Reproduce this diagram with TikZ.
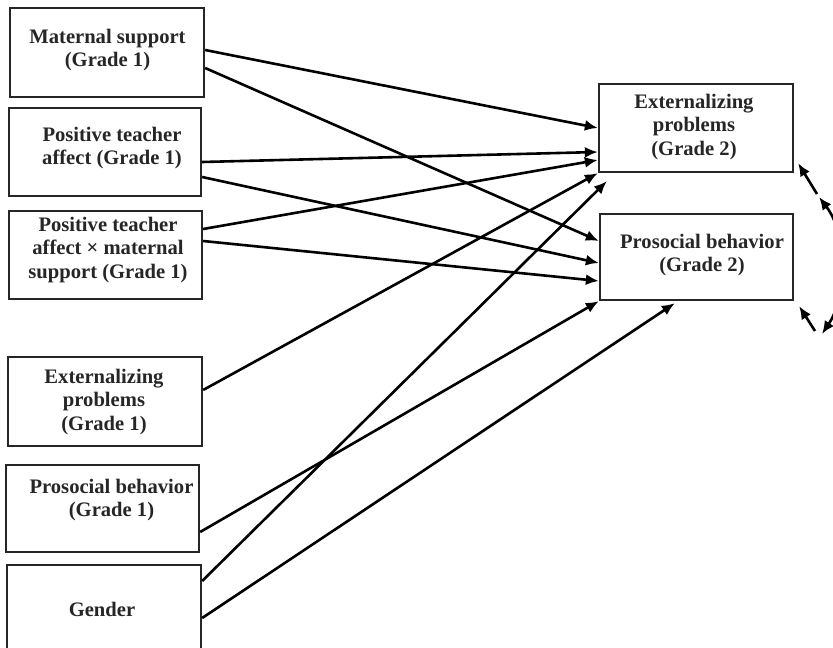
\documentclass[tikz,border=0pt]{standalone}
\usepackage{fontspec}
\setmainfont{Liberation Serif}
\usetikzlibrary{arrows.meta}
\begin{document}
\begin{tikzpicture}[x=1pt,y=-1pt,
  box/.style={draw=black!85, line width=2.3pt, inner sep=0pt},
  lbl/.style={align=center, font=\fontsize{20.6}{23.5}\selectfont\bfseries, text=black!85, inner sep=0pt},
  arr/.style={line width=2.6pt, -{Latex[length=13pt,width=11pt]}},
  darr/.style={line width=2.6pt, {Latex[length=13pt,width=11pt]}-{Latex[length=13pt,width=11pt]}}]
\path[use as bounding box] (0,0) rectangle (833,648);
\clip (0,0) rectangle (833,648);
\fill[white] (0,0) rectangle (833,648);
% boxes
\node[box, minimum width=194pt, minimum height=89pt] (b1) at (107,52.5) {};
\node[box, minimum width=192pt, minimum height=88pt] (b2) at (105,152) {};
\node[box, minimum width=193pt, minimum height=88pt] (b3) at (105.5,255) {};
\node[box, minimum width=194pt, minimum height=89pt] (b4) at (105,401.5) {};
\node[box, minimum width=193pt, minimum height=87pt] (b5) at (102.5,508.5) {};
\node[box, minimum width=194pt, minimum height=95pt] (b6) at (104,612.5) {};
\node[box, minimum width=194pt, minimum height=88pt] (ext) at (696,128) {};
\node[box, minimum width=193pt, minimum height=86pt] (pros) at (696.5,257) {};
% texts
\node[lbl] (t1) at (107.5,50) {Maternal support\\(Grade 1)};
\node[lbl] (t2) at (112,148) {Positive teacher\\affect (Grade 1)};
\node[lbl] (t3) at (108,250) {Positive teacher\\affect × maternal\\support (Grade 1)};
\node[lbl] (t4) at (104,402) {Externalizing\\problems\\(Grade 1)};
\node[lbl] (t5) at (111.5,500) {Prosocial behavior\\(Grade 1)};
\node[lbl] (t6) at (102,609) {Gender};
\node[lbl] (t7) at (694,127) {Externalizing\\problems\\(Grade 2)};
\node[lbl] (t8) at (702,255) {Prosocial behavior\\(Grade 2)};
% paths
\draw[arr] (b1.east |- 0,50) -- (ext.west |- 0,128);
\draw[arr] (b1.east |- 0,68) -- (pros.west |- 0,241);
\draw[arr] (b2.east |- 0,162) -- (ext.west |- 0,152);
\draw[arr] (b2.east |- 0,177) -- (pros.west |- 0,263);
\draw[arr] (b3.east |- 0,229) -- (ext.west |- 0,160);
\draw[arr] (b3.east |- 0,241) -- (pros.west |- 0,281);
\draw[arr] (b4.east |- 0,390) -- (ext.south west);
\draw[arr] (b5.east |- 0,532) -- (pros.south west);
\draw[arr] (b6.east |- 0,581) -- ([shift={(9pt,-8pt)}]ext.south west);
\draw[arr] (b6.east |- 0,618) -- ([shift={(76pt,-2pt)}]pros.south west);
% residual correlation
\coordinate (r1) at (817,194);
\coordinate (r2) at (815,331);
\coordinate (c1) at (819,197);
\coordinate (c2) at (822,334);
\draw[arr] (r1) -- ([shift={(4pt,10pt)}]ext.south east);
\draw[arr] (r2) -- ([shift={(5pt,-5pt)}]pros.south east);
\draw[darr] (c1) .. controls (848,235) and (848,295) .. (c2);
\end{tikzpicture}
\end{document}
